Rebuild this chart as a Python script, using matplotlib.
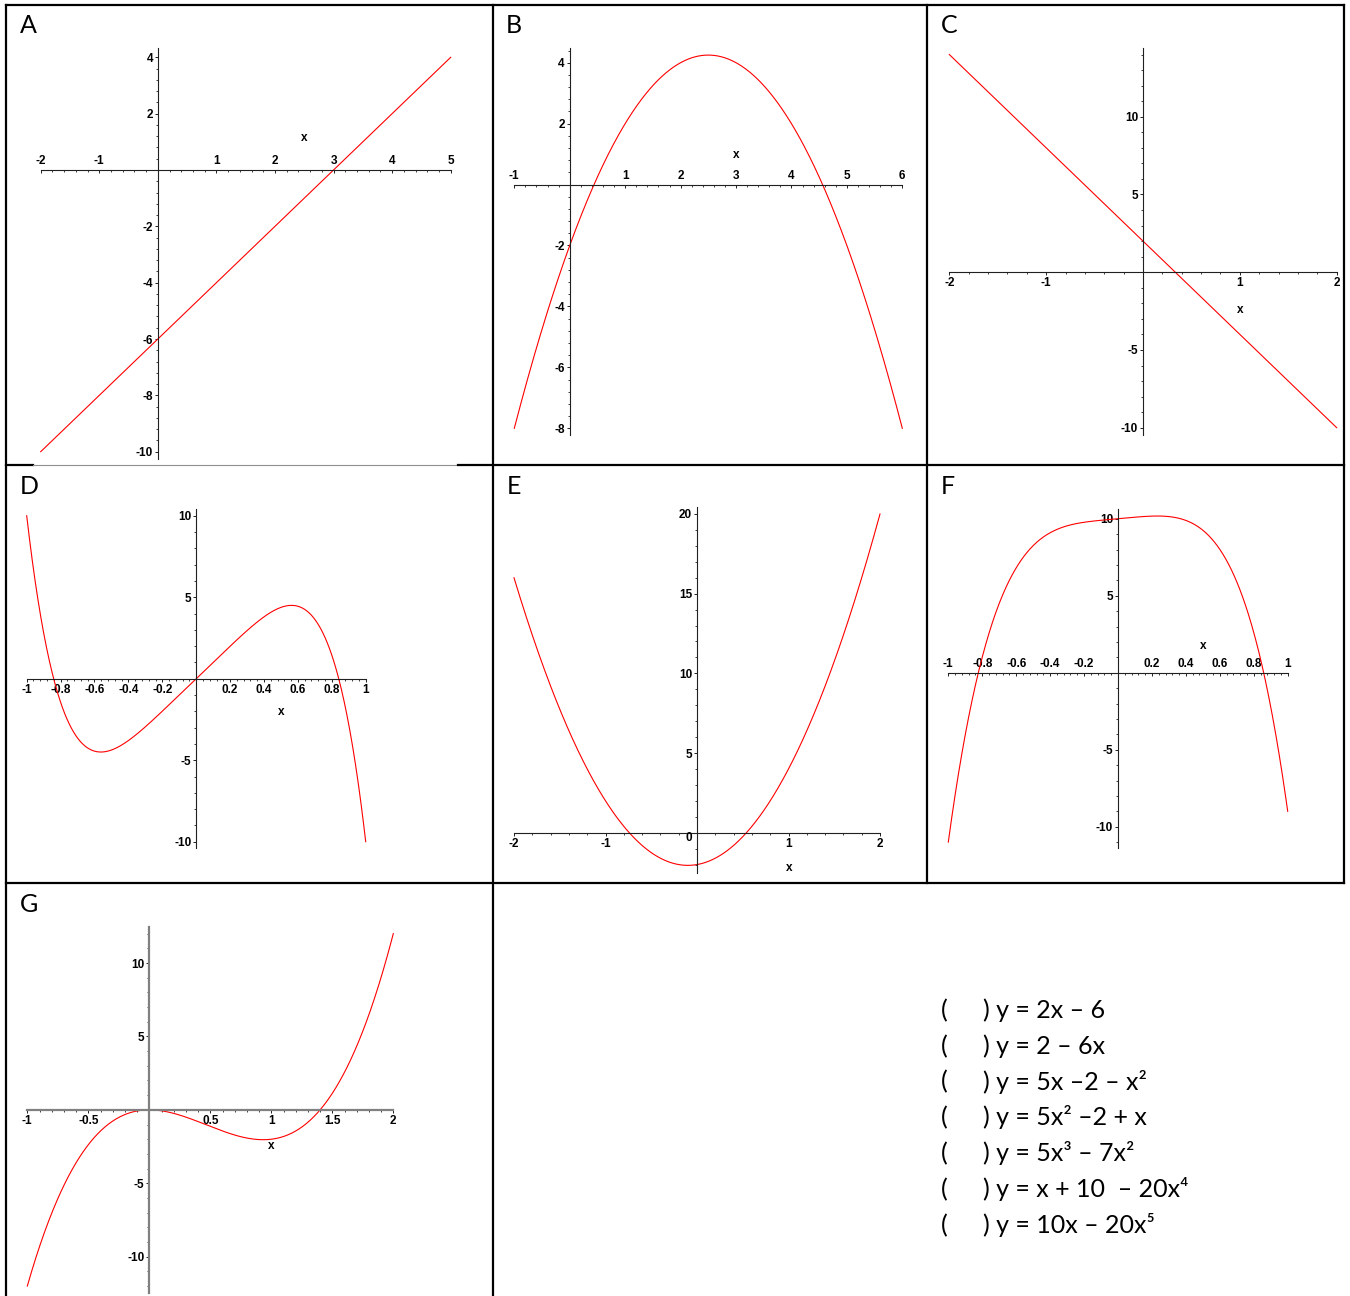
import numpy as np
import matplotlib
matplotlib.use('Agg')
import matplotlib.pyplot as plt
from matplotlib.lines import Line2D
from matplotlib.ticker import FixedLocator, MultipleLocator

plt.rcParams['axes.unicode_minus'] = False
plt.rcParams['font.family'] = ['Liberation Sans', 'DejaVu Sans']
plt.rcParams['font.weight'] = 'bold'
plt.rcParams['xtick.labelsize'] = 8.5
plt.rcParams['ytick.labelsize'] = 8.5

# curve data: polynomial coefficients (highest power first) and x ranges
panel_names = ['A', 'B', 'C', 'D', 'E', 'F', 'G']
coef_a = [2, -6]
coef_b = [-1, 5, -2]
coef_c = [-6, 2]
coef_d = [-20, 0, 0, 0, 10, 0]
coef_e = [5, 1, -2]
coef_f = [-20, 0, 0, 1, 10]
coef_g = [5, -7, 0, 0]
xrange_a = (-2, 5)
xrange_b = (-1, 6)
xrange_c = (-2, 2)
xrange_d = (-1, 1)
xrange_e = (-2, 2)
xrange_f = (-1, 1)
xrange_g = (-1, 2)

# tick labels
xticks_a = [-2, -1, 1, 2, 3, 4, 5]
yticks_a = [4, 2, -2, -4, -6, -8, -10]
xticks_b = [-1, 1, 2, 3, 4, 5, 6]
yticks_b = [4, 2, -2, -4, -6, -8]
xticks_c = [-2, -1, 1, 2]
yticks_c = [10, 5, -5, -10]
xticks_d = [-1, -0.8, -0.6, -0.4, -0.2, 0.2, 0.4, 0.6, 0.8, 1]
yticks_d = [10, 5, -5, -10]
xticks_e = [-2, -1, 1, 2]
yticks_e = [5, 10, 15, 20]
xticks_f = [-1, -0.8, -0.6, -0.4, -0.2, 0.2, 0.4, 0.6, 0.8, 1]
yticks_f = [10, 5, -5, -10]
xticks_g = [-1, -0.5, 0.5, 1, 1.5, 2]
yticks_g = [10, 5, -5, -10]

equations = ['y = 2x \u2013 6',
             'y = 2 \u2013 6x',
             'y = 5x \u20132 \u2013 x\u00b2',
             'y = 5x\u00b2 \u20132 + x',
             'y = 5x\u00b3 \u2013 7x\u00b2',
             'y = x + 10  \u2013 20x\u2074',
             'y = 10x \u2013 20x\u2075']

W, H = 1350, 1296
fig = plt.figure(figsize=(W / 100, H / 100), dpi=100)

def fx(x):
    return x / W

def fy(y):
    return 1 - y / H

# layout in pixels: x-limit pixels, two y reference points, y-axis line extent,
# label side, minor steps, position of the "x" label, panel letter position
layout = {
    'A': dict(px=(40.7, 450.7), yref=((4, 57.3), (-10, 451.7)), yext=(48, 459),
              top=True, minor=(0.2, 0.4), xlab=(304, 138), letter=(20, 33)),
    'B': dict(px=(514.3, 902.3), yref=((4, 62.7), (-8, 428.3)), yext=(48, 435),
              top=True, minor=(0.2, 0.4), xlab=(736, 155), letter=(506, 33)),
    'C': dict(px=(949.3, 1336.7), yref=((10, 116.7), (-10, 427.7)), yext=(48, 435),
              top=False, minor=(0.2, 1), xlab=(1240, 310), letter=(941, 33)),
    'D': dict(px=(26.7, 365.7), yref=((10, 515.7), (-10, 841.7)), yext=(509, 848),
              top=False, minor=(0.04, 1), xlab=(281, 712), letter=(20, 494)),
    'E': dict(px=(514, 880), yref=((20, 514), (0, 832.7)), yext=(506.7, 873.3),
              top=False, minor=(0.2, 1), xlab=(789, 868), letter=(507, 494)),
    'F': dict(px=(948.3, 1287.7), yref=((10, 518.7), (-10, 826.7)), yext=(509, 848),
              top=True, minor=(0.04, 1), xlab=(1203, 646), letter=(941, 494)),
    'G': dict(px=(27.3, 393.3), yref=((10, 963), (-10, 1256.7)), yext=(926.7, 1293),
              top=False, minor=(0.1, 1), xlab=(271, 1146), letter=(20, 912)),
}

coefs = [coef_a, coef_b, coef_c, coef_d, coef_e, coef_f, coef_g]
xranges = [xrange_a, xrange_b, xrange_c, xrange_d, xrange_e, xrange_f, xrange_g]
xticks = [xticks_a, xticks_b, xticks_c, xticks_d, xticks_e, xticks_f, xticks_g]
yticks = [yticks_a, yticks_b, yticks_c, yticks_d, yticks_e, yticks_f, yticks_g]

textfam = ['Lato', 'DejaVu Sans']

for name, coef, xr, xt, yt in zip(panel_names, coefs, xranges, xticks, yticks):
    L = layout[name]
    (ya, pa), (yb, pb) = L['yref']
    scale = (pa - pb) / (ya - yb)  # pixels per unit, negative
    ytop = ya + (L['yext'][0] - pa) / scale
    ybot = ya + (L['yext'][1] - pa) / scale
    x0, x1 = L['px']
    ax = fig.add_axes([fx(x0), fy(L['yext'][1]), (x1 - x0) / W,
                       (L['yext'][1] - L['yext'][0]) / H])
    ax.set_xlim(xr)
    ax.set_ylim(ybot, ytop)
    ax.patch.set_alpha(0)

    xs = np.linspace(xr[0], xr[1], 600)
    ax.plot(xs, np.polyval(coef, xs), color='#ff0000', lw=0.8, clip_on=False)

    spc = '#808080' if name == 'G' else '#202020'
    slw = 1.6 if name == 'G' else 0.8
    ax.spines['left'].set_position(('data', 0))
    ax.spines['bottom'].set_position(('data', 0))
    ax.spines['right'].set_visible(False)
    for s in ['left', 'bottom']:
        ax.spines[s].set_color(spc)
        ax.spines[s].set_linewidth(slw)

    ax.xaxis.set_major_locator(FixedLocator(xt))
    ax.xaxis.set_minor_locator(MultipleLocator(L['minor'][0]))
    ax.yaxis.set_major_locator(FixedLocator(yt))
    ax.yaxis.set_minor_locator(MultipleLocator(L['minor'][1]))
    ax.set_xticklabels(['%g' % v for v in xt])
    ax.set_yticklabels(['%g' % v for v in yt])

    if L['top']:
        ax.spines['top'].set_position(('data', 0))
        ax.spines['top'].set_color('none')
        ax.tick_params(axis='x', which='both', bottom=False, labelbottom=False,
                       top=True, labeltop=True, direction='in', pad=2)
    else:
        ax.spines['top'].set_visible(False)
        ax.tick_params(axis='x', which='both', direction='out', pad=1)
    ax.tick_params(axis='y', which='both', direction='out', pad=1)
    ax.tick_params(which='major', length=2.5, width=0.7, color='#202020')
    ax.tick_params(which='minor', length=1.6, width=0.6, color='#202020')

    fig.text(fx(L['xlab'][0]), fy(L['xlab'][1]), 'x', ha='center', va='center',
             fontsize=8.5)
    fig.text(fx(L['letter'][0]), fy(L['letter'][1]), name, ha='left',
             va='baseline', family=textfam, weight='normal', fontsize=18)

# the "0" label near the origin of panel E
fig.text(fx(689), fy(838), '0', ha='center', va='center', fontsize=8.5)

# table borders
def seg(x0, y0, x1, y1, lw=1.6, color='black'):
    fig.add_artist(Line2D([fx(x0), fx(x1)], [fy(y0), fy(y1)],
                          transform=fig.transFigure, color=color, lw=lw,
                          solid_capstyle='projecting'))

seg(6, 5, 1344, 5)
seg(6, 883, 1344, 883)
seg(6, 465, 33, 465)
seg(33, 465, 458, 465, lw=0.8, color='#909090')
seg(458, 465, 1344, 465)
seg(6, 5, 6, 1296)
seg(493, 5, 493, 1296)
seg(927, 5, 927, 883)
seg(1344, 5, 1344, 883)

# equations list
for i, eq in enumerate(equations):
    base = 1018 + i * 35.8
    fig.text(fx(941), fy(base), '(', ha='left', va='baseline',
             family=textfam, weight='normal', fontsize=18)
    fig.text(fx(983), fy(base), ') ' + eq, ha='left', va='baseline',
             family=textfam, weight='normal', fontsize=18)

fig.savefig('out.png', dpi=100)
